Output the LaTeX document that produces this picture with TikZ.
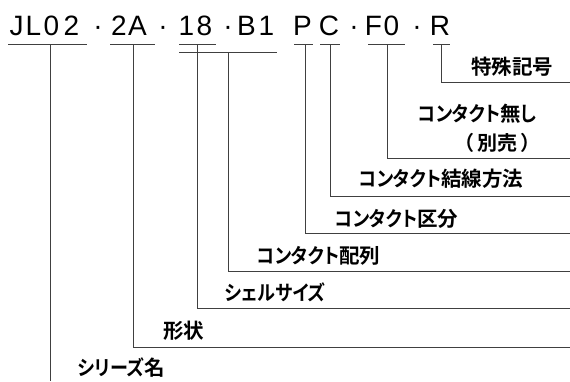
\documentclass[tikz,border=0pt]{standalone}
\usepackage{fontspec}
\newfontfamily\codefont{Liberation Sans}
\newfontfamily\jpfont{Noto Sans CJK JP Bold}[RawFeature=+palt]
\newfontfamily\jpfull{Noto Sans CJK JP Bold}
\newfontfamily\jpkana{Noto Sans CJK JP Bold}[RawFeature=+palt, FakeStretch=0.88]
\newcommand\kn[1]{{\jpkana #1}}
\begin{document}
\begin{tikzpicture}[x=1pt,y=-1pt,
  ln/.style={draw=black!75, line width=0.9pt},
  code/.style={font=\codefont\fontsize{28}{28}\selectfont, inner sep=0, anchor=base},
  lab/.style={font=\jpfont\fontsize{20.5}{22}\selectfont, inner sep=0, anchor=west}]
\useasboundingbox (0,0) rectangle (570,381);
% code characters
\foreach \ch/\xx/\nm in {J/16.5/c1,L/33.5/c2,0/51.5/c3,2/71.5/c4,
  {\textperiodcentered}/98/d1,2/119/c5,A/137.5/c6,{\textperiodcentered}/163/d2,
  1/186.5/c7,8/204.5/c8,{\textperiodcentered}/228/d3,B/246.5/c9,1/266.5/c10,
  P/302.5/c11,C/329/c12,{\textperiodcentered}/354/d4,F/373.5/c13,0/391.5/c14,
  {\textperiodcentered}/417/d5,R/440/c15}
  \node[code] (\nm) at (\xx,35) {\ch};
% underline coordinates
\coordinate (u1a) at (8,44);   \coordinate (u1b) at (87,44);
\coordinate (u2a) at (110,44); \coordinate (u2b) at (155,44);
\coordinate (u3a) at (179,44); \coordinate (u3b) at (216,44);
\coordinate (u4a) at (179,52); \coordinate (u4b) at (277,52);
\coordinate (u5a) at (294,44); \coordinate (u5b) at (313,44);
\coordinate (u6a) at (320,44); \coordinate (u6b) at (340,44);
\coordinate (u7a) at (368,44); \coordinate (u7b) at (405,44);
\coordinate (u8a) at (433,44); \coordinate (u8b) at (450,44);
\foreach \i in {1,...,8} \draw[ln] (u\i a) -- (u\i b);
% branch start points
\coordinate (s1) at (50,44);  \coordinate (s2) at (133,44);
\coordinate (s3) at (197,44); \coordinate (s4) at (228,52);
\coordinate (s5) at (305,44); \coordinate (s6) at (330,44);
\coordinate (s7) at (387,44); \coordinate (s8) at (441,44);
% ends
\coordinate (e1) at (50,381);
\coordinate (e2) at (570,347);
\coordinate (e3) at (570,308);
\coordinate (e4) at (570,271);
\coordinate (e5) at (570,233);
\coordinate (e6) at (570,196);
\coordinate (e7) at (570,158);
\coordinate (e8) at (570,82);
\draw[ln] (s1) -- (e1);
\foreach \i in {2,...,8} \draw[ln] (s\i) |- (e\i);
% labels
\node[lab] (l8) at (471,66.5) {特殊記号};
\node[lab] (l7a) at (418,114) {\kn{コンタクト}無\kn{し}};
\node[lab, anchor=center, font=\jpfull\fontsize{20}{22}\selectfont] (l7b) at (497.5,142.5) {（\kern3pt 別売\kern3pt ）};
\node[lab] (l6) at (359,178.5) {\kn{コンタクト}結線方法};
\node[lab] (l5) at (335,218.5) {\kn{コンタクト}区分};
\node[lab] (l4) at (257,256) {\kn{コンタクト}配列};
\node[lab] (l3) at (225,292.5) {\kn{シェルサイズ}};
\node[lab] (l2) at (163,331) {形状};
\node[lab] (l1) at (78,367.5) {\kn{シリーズ}名};
\end{tikzpicture}
\end{document}
